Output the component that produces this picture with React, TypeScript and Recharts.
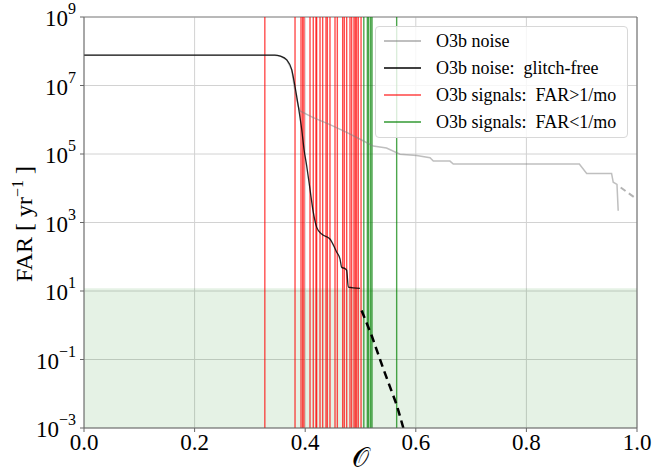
import React from 'react';
import { ComposedChart, Line, XAxis, YAxis, CartesianGrid, ReferenceLine, ReferenceArea } from 'recharts';

// O3b noise (all triggers), solid part
const noiseX = [0.0, 0.345, 0.355, 0.3666, 0.3756, 0.3816, 0.3875, 0.3906, 0.4146, 0.4448, 0.475, 0.4995, 0.523, 0.547, 0.5714, 0.6016, 0.6257, 0.6317, 0.6618, 0.6678, 0.8957, 0.909, 0.954, 0.957, 0.9638, 0.966];
const noiseFAR = [7.7e7, 7.7e7, 7.2e7, 5.6e7, 2.9e7, 6.5e6, 2.5e6, 1.8e6, 1.15e6, 7.2e5, 4.3e5, 2.7e5, 1.7e5, 1.5e5, 9.8e4, 9.1e4, 7.8e4, 6.2e4, 6.2e4, 5.1e4, 5.1e4, 2.7e4, 2.7e4, 1.5e4, 1.3e4, 2.2e3];
// O3b noise extrapolation (dashed)
const noiseExtX = [0.9705, 1.0];
const noiseExtFAR = [1.05e4, 4.8e3];

// O3b noise: glitch-free, solid part
const cleanX = [0.0, 0.345, 0.355, 0.3666, 0.3756, 0.3816, 0.3875, 0.3937, 0.3978, 0.4027, 0.4087, 0.4146, 0.4208, 0.4298, 0.4448, 0.457, 0.4629, 0.466, 0.472, 0.475, 0.478, 0.499];
const cleanFAR = [7.7e7, 7.7e7, 7.2e7, 5.6e7, 2.9e7, 9.3e6, 2.5e6, 5.2e5, 1.4e5, 4.5e4, 9.3e3, 2.0e3, 720, 460, 330, 135, 87, 49, 45, 40, 13, 12];
// glitch-free extrapolation (dashed)
const cleanExtX = [0.502, 0.52, 0.541, 0.5655, 0.5775];
const cleanExtFAR = [2.7, 0.51, 0.055, 0.0047, 0.001];

// signals
const signalsHighFAR = [0.327, 0.3816, 0.3924, 0.3954, 0.3978, 0.4087, 0.4146, 0.4195, 0.4207, 0.4268, 0.4316, 0.4376, 0.44, 0.4448, 0.4539, 0.4581, 0.4678, 0.4707, 0.475, 0.481, 0.484, 0.4882, 0.4906, 0.493, 0.496, 0.501];
const signalsLowFAR = [0.506, 0.5124, 0.5148, 0.5184, 0.5208, 0.5654];

const onePerMonth = 12;
const xTicks = [0, 0.2, 0.4, 0.6, 0.8, 1.0];
const yTicks = [1e-3, 1e-1, 1e1, 1e3, 1e5, 1e7, 1e9];

const legendItems = [
  { label: 'O3b noise', color: 'rgba(128,128,128,0.5)' },
  { label: 'O3b noise:  glitch-free', color: 'rgba(0,0,0,0.75)' },
  { label: 'O3b signals:  FAR>1/mo', color: 'rgba(255,0,0,0.55)' },
  { label: 'O3b signals:  FAR<1/mo', color: 'rgba(0,128,0,0.6)' },
];

const zip = (xs: number[], ys: number[]) => xs.map((x, i) => ({ x, y: ys[i] }));

const FONT = '"Liberation Serif", "DejaVu Serif", serif';

const YTick = (props: any) => {
  const { x, y, payload } = props;
  const e = Math.round(Math.log10(payload.value));
  const es = e < 0 ? '\u2212' + (-e) : String(e);
  return (
    <text x={x} y={y} textAnchor="end" fontFamily={FONT} fontSize={23} fill="#000">
      <tspan dy={9}>10</tspan>
      <tspan dy={-12} fontSize={16}>{es}</tspan>
    </text>
  );
};

const XTick = (props: any) => {
  const { x, y, payload } = props;
  return (
    <text x={x} y={y} dy={14} textAnchor="middle" fontFamily={FONT} fontSize={23} fill="#000">
      {payload.value.toFixed(1)}
    </text>
  );
};

export default function App() {
  return (
    <div style={{ position: 'absolute', left: 0, top: 0, width: 653, height: 476, background: '#fff' }}>
      <ComposedChart width={653} height={476} margin={{ top: 17, right: 16, bottom: 0, left: 0 }}>
        <ReferenceArea y1={1e-3} y2={onePerMonth} fill="green" fillOpacity={0.1} stroke="none" ifOverflow="hidden" />
        <CartesianGrid stroke="#d2d2d2" strokeWidth={1} />
        <XAxis
          type="number"
          dataKey="x"
          domain={[0, 1]}
          ticks={xTicks}
          allowDataOverflow
          height={48}
          tick={<XTick />}
          tickSize={4}
          tickMargin={4}
          stroke="#666"
          axisLine={{ stroke: '#666' }}
          label={{ value: '\u{1D4AA}', position: 'insideBottom', offset: 9, fontSize: 27, fontFamily: FONT, fill: '#000' }}
        />
        <YAxis
          type="number"
          dataKey="y"
          scale="log"
          domain={[1e-3, 1e9]}
          ticks={yTicks}
          allowDataOverflow
          width={84}
          tick={<YTick />}
          tickSize={4}
          tickMargin={4}
          axisLine={{ stroke: '#666' }}
          stroke="#666"
        />
        <ReferenceLine y={1e9} stroke="#888" />
        <ReferenceLine x={1} stroke="#666" />
        {signalsHighFAR.map((v, i) => (
          <ReferenceLine key={'r' + i} x={v} stroke="red" strokeOpacity={0.7} strokeWidth={1.4} />
        ))}
        {signalsLowFAR.map((v, i) => (
          <ReferenceLine key={'g' + i} x={v} stroke="green" strokeOpacity={0.7} strokeWidth={1.4} />
        ))}
        <Line data={zip(noiseX, noiseFAR)} dataKey="y" type="linear" stroke="gray" strokeOpacity={0.5} strokeWidth={1.5} dot={false} isAnimationActive={false} />
        <Line data={zip(noiseExtX, noiseExtFAR)} dataKey="y" type="linear" stroke="gray" strokeOpacity={0.6} strokeWidth={2} strokeDasharray="6 4" dot={false} isAnimationActive={false} />
        <Line data={zip(cleanX, cleanFAR)} dataKey="y" type="monotone" stroke="black" strokeOpacity={0.85} strokeWidth={1.3} dot={false} isAnimationActive={false} />
        <Line data={zip(cleanExtX, cleanExtFAR)} dataKey="y" type="linear" stroke="black" strokeWidth={2.5} strokeDasharray="8 5" dot={false} isAnimationActive={false} />
      </ComposedChart>
      <div
        style={{
          position: 'absolute', left: 24, top: 224, transform: 'translate(-50%, -50%) rotate(-90deg)',
          fontFamily: FONT, fontSize: 24, whiteSpace: 'nowrap', color: '#000',
        }}
      >
        FAR [ yr<sup style={{ fontSize: 16, verticalAlign: 'super', lineHeight: 0 }}>{'\u22121'}</sup> ]
      </div>
      <div
        style={{
          position: 'absolute', left: 375, top: 26, width: 253, height: 112, boxSizing: 'border-box',
          border: '1px solid #d8d8d8', borderRadius: 4, background: 'rgba(255,255,255,0.8)',
          fontFamily: FONT, fontSize: 18,
        }}
      >
        {legendItems.map((it, i) => (
          <div key={i} style={{ position: 'absolute', left: 0, top: 2 + i * 27, height: 24, display: 'flex', alignItems: 'center', whiteSpace: 'pre' }}>
            <div style={{ marginLeft: 8, width: 37, height: 1.5, background: it.color }} />
            <span style={{ marginLeft: 15, color: '#000' }}>{it.label}</span>
          </div>
        ))}
      </div>
    </div>
  );
}
